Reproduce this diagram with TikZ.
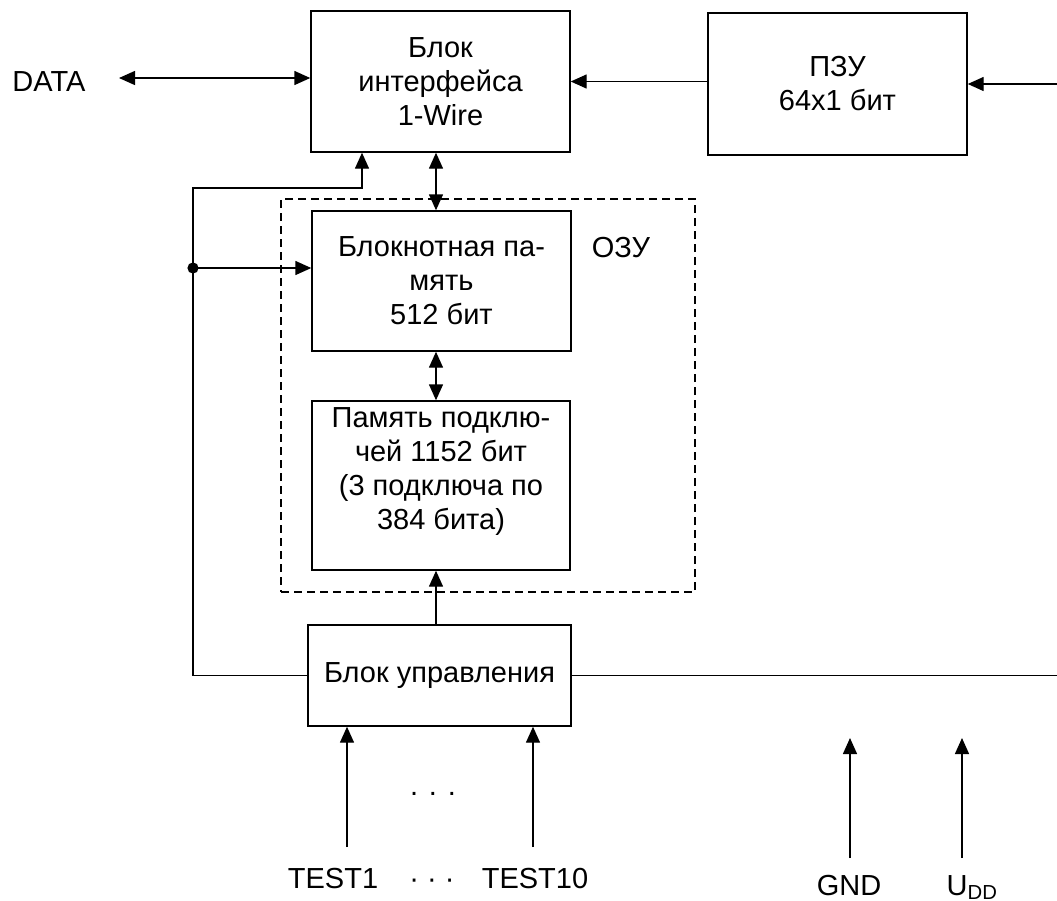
\documentclass[tikz,border=0pt]{standalone}
\usepackage{fontspec}
\setmainfont{Liberation Sans}
\usetikzlibrary{arrows.meta}

\begin{document}
\begin{tikzpicture}[x=0.5pt, y=-0.5pt, line width=0.7pt,
		>={Triangle[length=8pt,width=7pt]},
		font=\fontsize{14.5}{17}\selectfont,
		block/.style={rectangle, draw, align=center, inner sep=0pt, minimum width=129.5pt},
		pin/.style={anchor=base, inner sep=0pt},
		ramframe/.style={rectangle, draw, dash pattern=on 4pt off 2.5pt, inner sep=0pt}]
		\useasboundingbox (0,0) rectangle (1057,901);
		% Blocks (coordinates in pixels of the original figure)
		\path (440.5,81.5) node[block, minimum height=70.5pt](iface){Блок\\интерфейса\\1-Wire}
		(837.5,84) node[block, minimum height=71pt](rom){ПЗУ\\64x1 бит}
		(488,395.5) node[ramframe, minimum width=207pt, minimum height=196.5pt](ram){}
		(441.5,281) node[block, minimum height=70pt](pad){Блокнотная па-\\мять\\512 бит}
		(441,485.5) node[block, minimum width=129pt, minimum height=84.5pt](keys){}
		(441,472) node[align=center, inner sep=0pt](keystext){Память подклю-\\чей 1152 бит\\(3 подключа по\\384 бита)}
		(439.5,675.5) node[block, minimum width=131.5pt, minimum height=50.5pt](ctrl){Блок управления};
		% Labels
		\path (49,91) node[pin](data){DATA}
		(621,257) node[pin](ozu){ОЗУ}
		(433,795) node[pin](dotsup){. . .}
		(333,888) node[pin](test1){TEST1}
		(432,888) node[pin](dotsdown){\textperiodcentered\ \textperiodcentered\ \textperiodcentered}
		(535,888) node[pin](test10){TEST10}
		(849,895) node[pin](gndlabel){GND}
		(946,895) node[pin, anchor=base west](uddlabel){U\textsubscript{DD}};
		\coordinate (bus) at (436,0);
		\coordinate (fork) at (193,268);
		\coordinate (corner) at (193,188);
		\coordinate (datapin) at (119,78);
		\coordinate (romin) at (1057,84);
		\coordinate (ctrlout) at (1057,675.5);
		\coordinate (t1) at (347,847);
		\coordinate (t10) at (533,847);
		\coordinate (gnd) at (850,858);
		\coordinate (udd) at (962,858);
		% Connections
		\draw [<->](datapin) -- (datapin -| iface.west);
		\draw [->](rom.west |- iface) -- (iface.east);
		\draw [->](romin) -- (rom.east);
		\draw [<->](iface.south -| bus) -- (pad.north -| bus);
		\draw [<->](pad.south -| bus) -- (keys.north -| bus);
		\draw [->](ctrl.north -| bus) -- (keys.south -| bus);
		\draw [->](ctrl.west) -| (corner) -| ([xshift=-39.25pt]iface.south);
		\fill (fork) circle (2.8pt);
		\draw [->](fork) -- (fork -| pad.west);
		\draw (ctrl.east) -- (ctrlout);
		\draw [->](t1) -- (t1 |- ctrl.south);
		\draw [->](t10) -- (t10 |- ctrl.south);
		\draw [->](gnd) -- ++(0,-120);
		\draw [->](udd) -- ++(0,-120);
	\end{tikzpicture}
\end{document}
